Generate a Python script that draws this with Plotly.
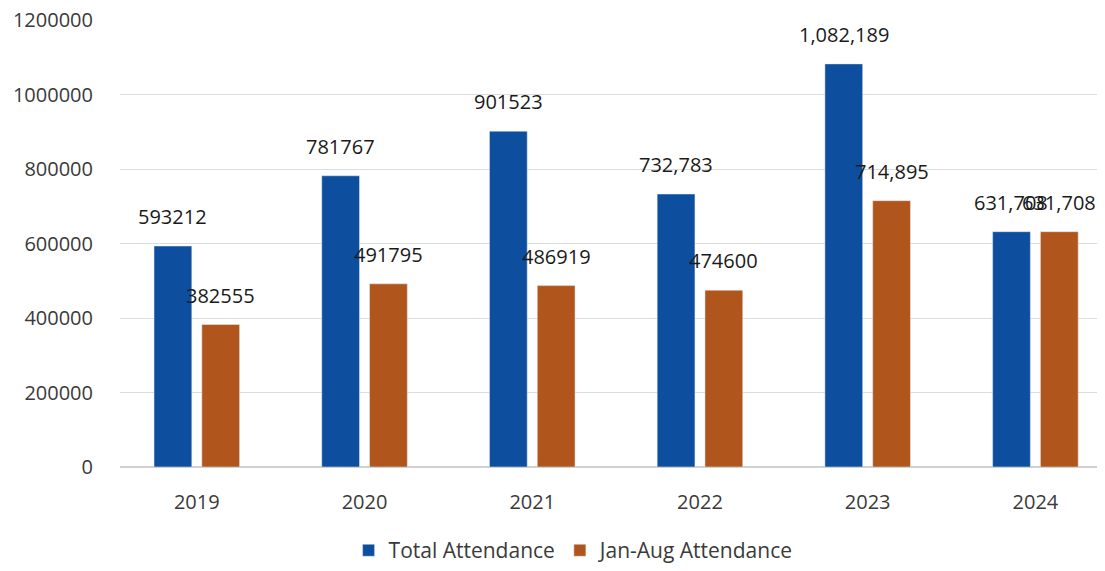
import plotly.graph_objects as go

years = ["2019", "2020", "2021", "2022", "2023", "2024"]
total_attendance = [593212, 781767, 901523, 732783, 1082189, 631708]
janaug_attendance = [382555, 491795, 486919, 474600, 714895, 631708]
total_labels = ["593212", "781767", "901523", "732,783", "1,082,189", "631,708"]
janaug_labels = ["382555", "491795", "486919", "474600", "714,895", "631,708"]
y_ticks = [0, 200000, 400000, 600000, 800000, 1000000, 1200000]

font_family = "Open Sans, Liberation Sans, sans-serif"
text_color = "#3a3a3a"
label_color = "#1a1a1a"

fig = go.Figure()
fig.add_trace(go.Bar(x=years, y=total_attendance, name="Total Attendance",
                     marker_color="#0d4f9e"))
fig.add_trace(go.Bar(x=years, y=janaug_attendance, name="Jan-Aug Attendance",
                     marker_color="#b0561c"))

# value labels above each bar (offset to the bar's side within its group)
for vals, labels, shift in [(total_attendance, total_labels, -24),
                            (janaug_attendance, janaug_labels, 24)]:
    for i, (v, t) in enumerate(zip(vals, labels)):
        fig.add_annotation(x=i, y=v, xref="x", yref="y", text=t, showarrow=False,
                           xanchor="center", yanchor="bottom", xshift=shift, yshift=14,
                           font=dict(size=20, color=label_color, family=font_family))

fig.update_layout(
    width=1105, height=571,
    margin=dict(l=112, r=8, t=12, b=112),
    paper_bgcolor="white", plot_bgcolor="white",
    barmode="group", bargap=0.43, bargroupgap=0.21,
    font=dict(family=font_family, color=text_color, size=20),
    legend=dict(orientation="h", x=0.461, xanchor="center", y=-0.187, yanchor="middle",
                font=dict(size=21, color=text_color), traceorder="normal",
                itemwidth=30),
    showlegend=True,
)
fig.update_xaxes(type="category", range=[-0.458, 5.415], showgrid=False, showline=False,
                 ticks="", ticklabelstandoff=21, automargin=False,
                 tickfont=dict(size=20, color=text_color))
fig.update_yaxes(range=[0, 1200000], tickvals=y_ticks, ticktext=[str(v) for v in y_ticks],
                 showgrid=True, gridcolor="#dcdcdc", gridwidth=1, zeroline=True,
                 zerolinecolor="#d0d0d0", ticks="", ticklabelstandoff=26, automargin=False,
                 ticklabeloverflow="allow",
                 tickfont=dict(size=20, color=text_color))

fig.write_html("out.html")
